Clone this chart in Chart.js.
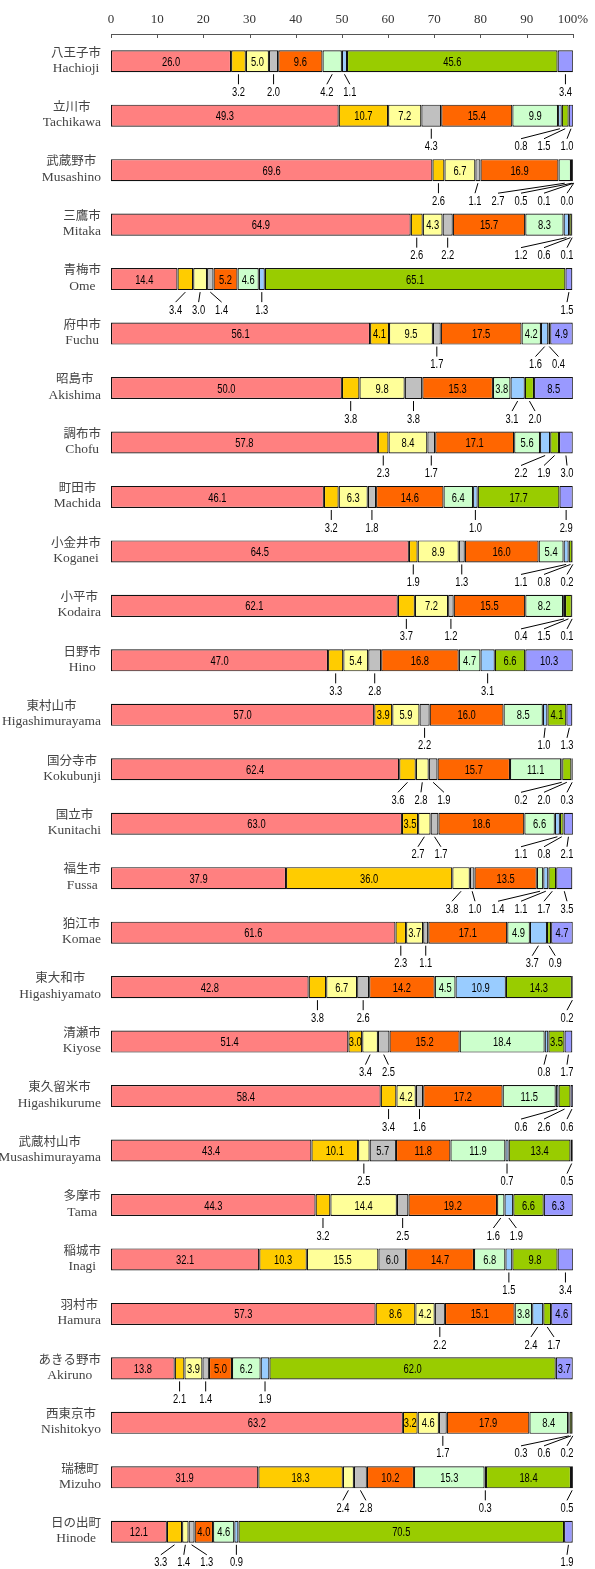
<!DOCTYPE html>
<html>
<head>
<meta charset="utf-8">
<script src="https://cdn.jsdelivr.net/npm/chart.js@4.4.0/dist/chart.umd.min.js"></script>
<style>
  html, body { margin: 0; padding: 0; background: #fff; }
  canvas { display: block; }
</style>
</head>
<body>
<canvas id="chart" width="595" height="1569"></canvas>
<script>
// city names (two lines: Japanese / romaji)
const citiesJa = ['八王子市', '立川市', '武蔵野市', '三鷹市', '青梅市', '府中市', '昭島市', '調布市', '町田市', '小金井市',
    '小平市', '日野市', '東村山市', '国分寺市', '国立市', '福生市', '狛江市', '東大和市', '清瀬市', '東久留米市',
    '武蔵村山市', '多摩市', '稲城市', '羽村市', 'あきる野市', '西東京市', '瑞穂町', '日の出町'];
const citiesEn = ['Hachioji', 'Tachikawa', 'Musashino', 'Mitaka', 'Ome', 'Fuchu', 'Akishima', 'Chofu', 'Machida', 'Koganei',
    'Kodaira', 'Hino', 'Higashimurayama', 'Kokubunji', 'Kunitachi', 'Fussa', 'Komae', 'Higashiyamato', 'Kiyose', 'Higashikurume',
    'Musashimurayama', 'Tama', 'Inagi', 'Hamura', 'Akiruno', 'Nishitokyo', 'Mizuho', 'Hinode'];

// shares (%) of each segment, left to right
const seg1 = [26.0, 49.3, 69.6, 64.9, 14.4, 56.1, 50.0, 57.8, 46.1, 64.5, 62.1, 47.0, 57.0, 62.4, 63.0, 37.9, 61.6, 42.8, 51.4, 58.4, 43.4, 44.3, 32.1, 57.3, 13.8, 63.2, 31.9, 12.1];
const seg2 = [3.2, 10.7, 2.6, 2.6, 3.4, 4.1, 3.8, 2.3, 3.2, 1.9, 3.7, 3.3, 3.9, 3.6, 3.5, 36.0, 2.3, 3.8, 3.0, 3.4, 10.1, 3.2, 10.3, 8.6, 2.1, 3.2, 18.3, 3.3];
const seg3 = [5.0, 7.2, 6.7, 4.3, 3.0, 9.5, 9.8, 8.4, 6.3, 8.9, 7.2, 5.4, 5.9, 2.8, 2.7, 3.8, 3.7, 6.7, 3.4, 4.2, 2.5, 14.4, 15.5, 4.2, 3.9, 4.6, 2.4, 1.4];
const seg4 = [2.0, 4.3, 1.1, 2.2, 1.4, 1.7, 3.8, 1.7, 1.8, 1.3, 1.2, 2.8, 2.2, 1.9, 1.7, 1.0, 1.1, 2.6, 2.5, 1.6, 5.7, 2.5, 6.0, 2.2, 1.4, 1.7, 2.8, 1.3];
const seg5 = [9.6, 15.4, 16.9, 15.7, 5.2, 17.5, 15.3, 17.1, 14.6, 16.0, 15.5, 16.8, 16.0, 15.7, 18.6, 13.5, 17.1, 14.2, 15.2, 17.2, 11.8, 19.2, 14.7, 15.1, 5.0, 17.9, 10.2, 4.0];
const seg6 = [4.2, 9.9, 2.7, 8.3, 4.6, 4.2, 3.8, 5.6, 6.4, 5.4, 8.2, 4.7, 8.5, 11.1, 6.6, 1.4, 4.9, 4.5, 18.4, 11.5, 11.9, 1.6, 6.8, 3.8, 6.2, 8.4, 15.3, 4.6];
const seg7 = [1.1, 0.8, 0.5, 1.2, 1.3, 1.6, 3.1, 2.2, 1.0, 1.1, 0.4, 3.1, 1.0, 0.2, 1.1, 1.1, 3.7, 10.9, 0.8, 0.6, 0.7, 1.9, 1.5, 2.4, 1.9, 0.3, 0.3, 0.9];
const seg8 = [45.6, 1.5, 0.1, 0.6, 65.1, 0.4, 2.0, 1.9, 17.7, 0.8, 1.5, 6.6, 4.1, 2.0, 0.8, 1.7, 0.9, 14.3, 3.5, 2.6, 13.4, 6.6, 9.8, 1.7, 62.0, 0.6, 18.4, 70.5];
const seg9 = [3.4, 1.0, 0.0, 0.1, 1.5, 4.9, 8.5, 3.0, 2.9, 0.2, 0.1, 10.3, 1.3, 0.3, 2.1, 3.5, 4.7, 0.2, 1.7, 0.6, 0.5, 6.3, 3.4, 4.6, 3.7, 0.2, 0.5, 1.9];

const xTicks = [0, 10, 20, 30, 40, 50, 60, 70, 80, 90, 100];

// which segment labels sit under the bar (1) instead of inside it (0)
const labelBelow = ['010101101', '000100111', '010101111', '010100111', '011100101', '000100110', '010100110', '010100111',
    '010100101', '010100111', '010100111', '010100100', '000100101', '011100111', '001100111', '001101111', '010100110',
    '010100001', '001100101', '010100111', '001000101', '010101100', '000000101', '000100110', '010100100', '000100111',
    '001100101', '011100101'];

const colors = ['#FF8080', '#FFCC00', '#FFFF99', '#C0C0C0', '#FF6600', '#CCFFCC', '#99CCFF', '#99CC00', '#9999FF'];
const allSegs = [seg1, seg2, seg3, seg4, seg5, seg6, seg7, seg8, seg9];

function drawNarrow(ctx, text, x, y) {
    ctx.save();
    ctx.translate(x, y);
    ctx.scale(0.72, 1);
    ctx.fillText(text, 0, 0);
    ctx.restore();
}

// spread label centres so they do not collide
function spreadLabels(wants, minX, maxX, gap) {
    let groups = wants.map((w, i) => ({ idx: [i], sum: w }));
    const place = g => {
        const n = g.idx.length;
        let start = g.sum / n - (n - 1) * gap / 2;
        if (start + (n - 1) * gap > maxX) start = maxX - (n - 1) * gap;
        if (start < minX) start = minX;
        g.start = start;
        g.end = start + (n - 1) * gap;
    };
    let merged = true;
    while (merged) {
        merged = false;
        groups.forEach(place);
        for (let k = 0; k < groups.length - 1; k++) {
            if (groups[k].end + gap > groups[k + 1].start) {
                groups[k].idx = groups[k].idx.concat(groups[k + 1].idx);
                groups[k].sum += groups[k + 1].sum;
                groups.splice(k + 1, 1);
                merged = true;
                break;
            }
        }
    }
    const out = [];
    groups.forEach(g => g.idx.forEach((i, j) => { out[i] = g.start + j * gap; }));
    return out;
}

const labelsPlugin = {
    id: 'labels',
    afterDatasetsDraw(chart) {
        const ctx = chart.ctx;
        ctx.save();
        ctx.font = '13px "Liberation Sans", Arial, sans-serif';
        ctx.fillStyle = '#000';
        ctx.strokeStyle = '#000';
        ctx.lineWidth = 1;
        ctx.textAlign = 'center';
        ctx.textBaseline = 'middle';
        for (let i = 0; i < citiesJa.length; i++) {
            const below = [];
            allSegs.forEach((seg, d) => {
                const bar = chart.getDatasetMeta(d).data[i];
                const p = bar.getProps(['x', 'y', 'base', 'height'], true);
                const cx = (p.x + p.base) / 2;
                const txt = seg[i].toFixed(1);
                if (labelBelow[i][d] === '1') {
                    below.push({ cx, txt, bottom: p.y + p.height / 2 });
                } else {
                    drawNarrow(ctx, txt, cx, p.y + 1);
                }
            });
            if (!below.length) continue;
            const xs = spreadLabels(below.map(b => b.cx), 122, 567, 23);
            below.forEach((b, k) => {
                ctx.beginPath();
                ctx.moveTo(b.cx, b.bottom + 2);
                ctx.lineTo(xs[k], b.bottom + 12);
                ctx.stroke();
                drawNarrow(ctx, b.txt, xs[k], b.bottom + 20);
            });
        }
        ctx.restore();
    },
    afterDraw(chart) {
        const ctx = chart.ctx;
        const xs = chart.scales.x;
        const ys = chart.scales.y;
        ctx.save();
        // small tick marks under the top axis line
        ctx.strokeStyle = '#555';
        ctx.lineWidth = 1;
        xTicks.forEach(t => {
            const px = Math.round(xs.getPixelForValue(t)) + 0.5;
            ctx.beginPath();
            ctx.moveTo(px, chart.chartArea.top);
            ctx.lineTo(px, chart.chartArea.top + 4);
            ctx.stroke();
        });
        // city names, the two lines centred on each other, block right aligned
        ctx.fillStyle = '#444';
        ctx.textAlign = 'center';
        ctx.textBaseline = 'middle';
        const jaFont = '12.5px "Liberation Serif", "Noto Sans CJK JP", serif';
        const enFont = '13.5px "Liberation Serif", "Times New Roman", serif';
        for (let i = 0; i < citiesJa.length; i++) {
            const cy = ys.getPixelForValue(i);
            ctx.font = jaFont;
            const wJa = ctx.measureText(citiesJa[i]).width;
            ctx.font = enFont;
            const wEn = ctx.measureText(citiesEn[i]).width;
            const mid = 101 - Math.max(wJa, wEn) / 2;
            ctx.font = jaFont;
            ctx.fillText(citiesJa[i], mid, cy - 8);
            ctx.font = enFont;
            ctx.fillText(citiesEn[i], mid, cy + 7);
        }
        ctx.restore();
    }
};

new Chart(document.getElementById('chart'), {
    type: 'bar',
    data: {
        labels: citiesEn,
        datasets: allSegs.map((seg, d) => ({
            data: seg,
            backgroundColor: colors[d],
            borderColor: '#111',
            borderWidth: 1.2,
            borderSkipped: false,
            categoryPercentage: 1,
            barPercentage: 0.405
        }))
    },
    options: {
        indexAxis: 'y',
        responsive: false,
        animation: false,
        devicePixelRatio: 1,
        layout: { padding: { left: 111, right: 22, top: 0, bottom: 10 } },
        plugins: {
            legend: { display: false },
            tooltip: { enabled: false }
        },
        scales: {
            x: {
                position: 'top',
                stacked: true,
                min: 0,
                max: 100,
                afterBuildTicks(scale) {
                    scale.ticks = xTicks.map(v => ({ value: v }));
                },
                afterFit(scale) { scale.height = 34; },
                grid: { display: false, drawTicks: false },
                border: { display: true, color: '#555', width: 1 },
                ticks: {
                    padding: 7,
                    color: '#333',
                    font: { family: '"Liberation Serif", serif', size: 13 },
                    callback: v => (v === 100 ? '100%' : v)
                }
            },
            y: {
                stacked: true,
                display: false
            }
        }
    },
    plugins: [labelsPlugin]
});
</script>
</body>
</html>
